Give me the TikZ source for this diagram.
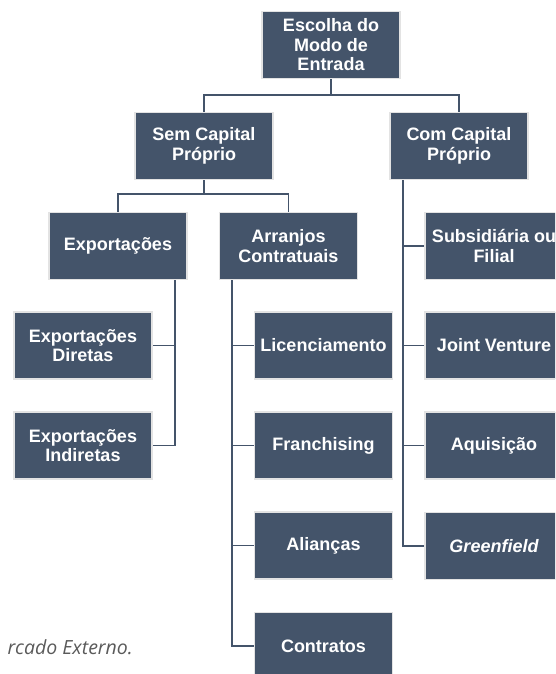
\documentclass[tikz,border=0pt]{standalone}
\usepackage{fontspec}
\setmainfont{Liberation Sans}
\newfontfamily\notefont{Open Sans}
\usepackage{tikz}
\usetikzlibrary{positioning}

\definecolor{boxblue}{HTML}{44546A}
\definecolor{boxrim}{HTML}{E3E3E3}
\definecolor{notegray}{HTML}{5A5A5A}

\begin{document}
\begin{tikzpicture}[x=1pt, y=-1pt,
    modo/.style = {rectangle, fill = boxblue, draw = boxrim, line width = 1.6pt,
                   minimum width = 138pt, minimum height = 67pt, inner sep = 2pt,
                   align = center, text = white,
                   font = \fontsize{18}{19.5}\selectfont\bfseries},
    elo/.style = {draw = boxblue, line width = 1.8pt}]
                \useasboundingbox (0,0) rectangle (555,674);
                \clip (0,0) rectangle (555,674);

                % nivel 1 e 2
                \node [modo] (escolha) at (331, 45) {Escolha do\\Modo de\\Entrada};
                \node [modo] (sem) at (204, 146) {Sem Capital\\Pr\'oprio};
                \node [modo] (com) at (459, 146) {Com Capital\\Pr\'oprio};

                % nivel 3
                \node [modo] (export) at (118, 246) {Exporta\c{c}\~oes};
                \node [modo] (arranjo) at (288.5, 246) {Arranjos\\Contratuais};

                % exportacoes
                \node [modo] (direta) at (83, 345.5) {Exporta\c{c}\~oes\\Diretas};
                \node [modo] (indireta) at (83, 445.5) {Exporta\c{c}\~oes\\Indiretas};

                % arranjos contratuais
                \node [modo] (licenc) at (323.5, 345.5) {Licenciamento};
                \node [modo] (franch) at (323.5, 445.5) {Franchising};
                \node [modo] (alianca) at (323.5, 545.5) {Alian\c{c}as};
                \node [modo] (contrato) at (323.5, 646) {Contratos};

                % com capital proprio
                \node [modo] (subsid) at (494, 246) {Subsidi\'aria ou\\Filial};
                \node [modo] (joint) at (494, 345.5) {Joint Venture};
                \node [modo] (aquis) at (494, 445.5) {Aquisi\c{c}\~ao};
                \node [modo] (green) at (494, 546) {\itshape Greenfield};

                \node [anchor = base east, text = notegray, inner sep = 0pt,
                       font = \notefont\itshape\fontsize{19.5}{22}\selectfont]
                      (fonte) at (133, 654) {rcado Externo.};

                % ligacoes
                \draw [elo] (escolha.south) -- ++(0, 16) -| (sem.north);
                \draw [elo] (escolha.south) -- ++(0, 16) -| (com.north);
                \draw [elo] (sem.south) -- ++(0, 14) -| (export.north);
                \draw [elo] (sem.south) -- ++(0, 14) -| (arranjo.north);

                \coordinate (troncoE) at ([xshift = -13pt] export.south east);
                \draw [elo] (troncoE) |- (direta.east);
                \draw [elo] (troncoE) |- (indireta.east);

                \coordinate (troncoA) at ([xshift = 13pt] arranjo.south west);
                \foreach \filho in {licenc, franch, alianca, contrato}
                    \draw [elo] (troncoA) |- (\filho.west);

                \coordinate (troncoC) at ([xshift = 14pt] com.south west);
                \foreach \filho in {subsid, joint, aquis, green}
                    \draw [elo] (troncoC) |- (\filho.west);

            \end{tikzpicture}
\end{document}
